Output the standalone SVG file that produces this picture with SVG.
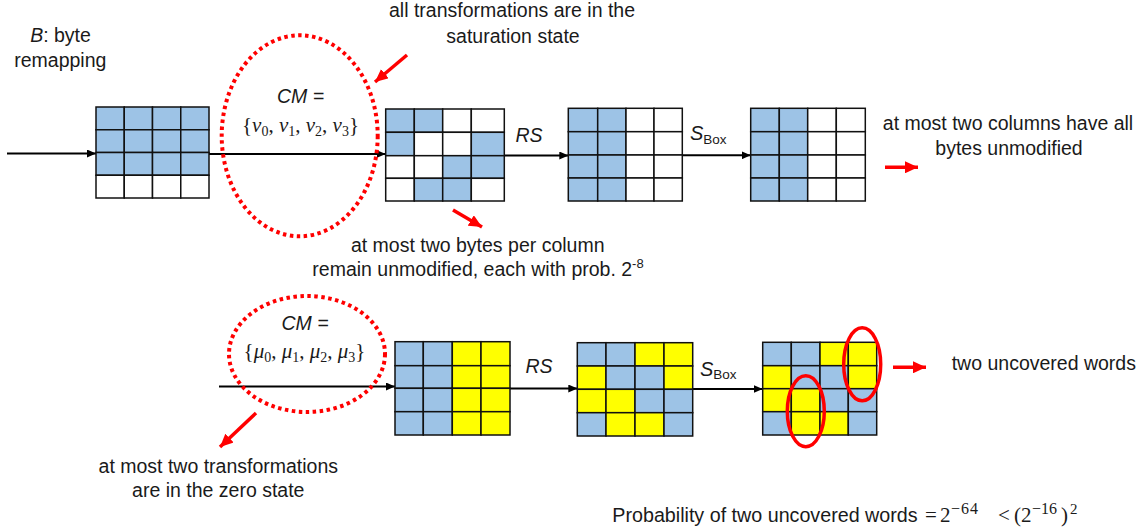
<svg xmlns="http://www.w3.org/2000/svg" width="1143" height="529" viewBox="0 0 1143 529">
<defs>
<style>
.t{font-family:"Liberation Sans",Arial,sans-serif;font-size:19.5px;fill:#1a1a1a}
.it{font-style:italic}
.m{font-family:"Liberation Serif","DejaVu Serif",serif;font-size:21px;fill:#1a1a1a}
.b{fill:#9DC3E6;stroke:#111;stroke-width:1.5}
.w{fill:#fff;stroke:#111;stroke-width:1.5}
.y{fill:#FFFF00;stroke:#111;stroke-width:1.5}
.ka{stroke:#000;stroke-width:2;fill:none;marker-end:url(#ah)}
.ra{stroke:#FF0000;stroke-width:3.5;fill:none;marker-end:url(#rh)}
.dot{fill:none;stroke:#FF0000;stroke-width:4;stroke-dasharray:3.5 3.5}
.sol{fill:none;stroke:#FF0000;stroke-width:3.5}
</style>
<marker id="ah" markerUnits="userSpaceOnUse" markerWidth="9" markerHeight="8" refX="9" refY="4" orient="auto"><path d="M0,0 L9,4 L0,8 z" fill="#000"/></marker>
<marker id="rh" markerUnits="userSpaceOnUse" markerWidth="13" markerHeight="12" refX="13" refY="6" orient="auto"><path d="M0,0 L13,6 L0,12 z" fill="#FF0000"/></marker>
</defs>
<rect width="1143" height="529" fill="#fff"/>

<g id="connectors">
<line class="ka" x1="7" y1="153.5" x2="96" y2="153.5"/>
<line class="ka" x1="209" y1="154" x2="385.7" y2="154"/>
<line class="ka" x1="504.3" y1="155.5" x2="568.3" y2="155.5"/>
<line class="ka" x1="682.3" y1="155.3" x2="750.7" y2="155.3"/>
<line class="ka" x1="219" y1="386.5" x2="395" y2="386.5"/>
<line class="ka" x1="510" y1="388.5" x2="577.3" y2="388.5"/>
<line class="ka" x1="692.7" y1="389" x2="762.7" y2="389"/>
<line class="ra" x1="407" y1="55" x2="375" y2="82"/>
<line class="ra" x1="453" y1="210" x2="482" y2="227"/>
<line class="ra" x1="885" y1="167.3" x2="918" y2="167.3"/>
<line class="ra" x1="256" y1="413" x2="220" y2="447"/>
<line class="ra" x1="893" y1="367.3" x2="926" y2="367.3"/>
</g>

<g id="grid-top-1">
<rect class="b" x="96" y="107" width="28.25" height="22.75"/><rect class="b" x="124.25" y="107" width="28.25" height="22.75"/><rect class="b" x="152.5" y="107" width="28.25" height="22.75"/><rect class="b" x="180.75" y="107" width="28.25" height="22.75"/>
<rect class="b" x="96" y="129.75" width="28.25" height="22.75"/><rect class="b" x="124.25" y="129.75" width="28.25" height="22.75"/><rect class="b" x="152.5" y="129.75" width="28.25" height="22.75"/><rect class="b" x="180.75" y="129.75" width="28.25" height="22.75"/>
<rect class="b" x="96" y="152.5" width="28.25" height="22.75"/><rect class="b" x="124.25" y="152.5" width="28.25" height="22.75"/><rect class="b" x="152.5" y="152.5" width="28.25" height="22.75"/><rect class="b" x="180.75" y="152.5" width="28.25" height="22.75"/>
<rect class="w" x="96" y="175.25" width="28.25" height="22.75"/><rect class="w" x="124.25" y="175.25" width="28.25" height="22.75"/><rect class="w" x="152.5" y="175.25" width="28.25" height="22.75"/><rect class="w" x="180.75" y="175.25" width="28.25" height="22.75"/>
</g>

<g id="grid-top-2">
<rect class="b" x="385.7" y="109" width="28.6" height="23.3"/><rect class="b" x="414.3" y="109" width="28.4" height="23.3"/><rect class="w" x="442.7" y="109" width="28.6" height="23.3"/><rect class="w" x="471.3" y="109" width="33" height="23.3"/>
<rect class="b" x="385.7" y="132.3" width="28.6" height="23.4"/><rect class="w" x="414.3" y="132.3" width="28.4" height="23.4"/><rect class="w" x="442.7" y="132.3" width="28.6" height="23.4"/><rect class="b" x="471.3" y="132.3" width="33" height="23.4"/>
<rect class="w" x="385.7" y="155.7" width="28.6" height="22.6"/><rect class="w" x="414.3" y="155.7" width="28.4" height="22.6"/><rect class="b" x="442.7" y="155.7" width="28.6" height="22.6"/><rect class="b" x="471.3" y="155.7" width="33" height="22.6"/>
<rect class="w" x="385.7" y="178.3" width="28.6" height="22.7"/><rect class="b" x="414.3" y="178.3" width="28.4" height="22.7"/><rect class="b" x="442.7" y="178.3" width="28.6" height="22.7"/><rect class="w" x="471.3" y="178.3" width="33" height="22.7"/>
</g>

<g id="grid-top-3">
<rect class="b" x="568.3" y="108.3" width="29.4" height="23.4"/><rect class="b" x="597.7" y="108.3" width="28.3" height="23.4"/><rect class="w" x="626" y="108.3" width="28" height="23.4"/><rect class="w" x="654" y="108.3" width="28.3" height="23.4"/>
<rect class="b" x="568.3" y="131.7" width="29.4" height="23.3"/><rect class="b" x="597.7" y="131.7" width="28.3" height="23.3"/><rect class="w" x="626" y="131.7" width="28" height="23.3"/><rect class="w" x="654" y="131.7" width="28.3" height="23.3"/>
<rect class="b" x="568.3" y="155" width="29.4" height="23"/><rect class="b" x="597.7" y="155" width="28.3" height="23"/><rect class="w" x="626" y="155" width="28" height="23"/><rect class="w" x="654" y="155" width="28.3" height="23"/>
<rect class="b" x="568.3" y="178" width="29.4" height="23"/><rect class="b" x="597.7" y="178" width="28.3" height="23"/><rect class="w" x="626" y="178" width="28" height="23"/><rect class="w" x="654" y="178" width="28.3" height="23"/>
</g>

<g id="grid-top-4">
<rect class="b" x="750.7" y="108.3" width="28.6" height="23.4"/><rect class="b" x="779.3" y="108.3" width="28.4" height="23.4"/><rect class="w" x="807.7" y="108.3" width="28.6" height="23.4"/><rect class="w" x="836.3" y="108.3" width="29" height="23.4"/>
<rect class="b" x="750.7" y="131.7" width="28.6" height="23.3"/><rect class="b" x="779.3" y="131.7" width="28.4" height="23.3"/><rect class="w" x="807.7" y="131.7" width="28.6" height="23.3"/><rect class="w" x="836.3" y="131.7" width="29" height="23.3"/>
<rect class="b" x="750.7" y="155" width="28.6" height="23"/><rect class="b" x="779.3" y="155" width="28.4" height="23"/><rect class="w" x="807.7" y="155" width="28.6" height="23"/><rect class="w" x="836.3" y="155" width="29" height="23"/>
<rect class="b" x="750.7" y="178" width="28.6" height="23"/><rect class="b" x="779.3" y="178" width="28.4" height="23"/><rect class="w" x="807.7" y="178" width="28.6" height="23"/><rect class="w" x="836.3" y="178" width="29" height="23"/>
</g>

<g id="grid-bottom-1">
<rect class="b" x="395" y="341.7" width="28.3" height="24"/><rect class="b" x="423.3" y="341.7" width="29" height="24"/><rect class="y" x="452.3" y="341.7" width="28.7" height="24"/><rect class="y" x="481" y="341.7" width="29" height="24"/>
<rect class="b" x="395" y="365.7" width="28.3" height="22.6"/><rect class="b" x="423.3" y="365.7" width="29" height="22.6"/><rect class="y" x="452.3" y="365.7" width="28.7" height="22.6"/><rect class="y" x="481" y="365.7" width="29" height="22.6"/>
<rect class="b" x="395" y="388.3" width="28.3" height="23.4"/><rect class="b" x="423.3" y="388.3" width="29" height="23.4"/><rect class="y" x="452.3" y="388.3" width="28.7" height="23.4"/><rect class="y" x="481" y="388.3" width="29" height="23.4"/>
<rect class="b" x="395" y="411.7" width="28.3" height="23.3"/><rect class="b" x="423.3" y="411.7" width="29" height="23.3"/><rect class="y" x="452.3" y="411.7" width="28.7" height="23.3"/><rect class="y" x="481" y="411.7" width="29" height="23.3"/>
</g>

<g id="grid-bottom-2">
<rect class="b" x="577.3" y="342.7" width="28.7" height="23.3"/><rect class="b" x="606" y="342.7" width="29" height="23.3"/><rect class="y" x="635" y="342.7" width="29" height="23.3"/><rect class="y" x="664" y="342.7" width="28.7" height="23.3"/>
<rect class="y" x="577.3" y="366" width="28.7" height="23.3"/><rect class="b" x="606" y="366" width="29" height="23.3"/><rect class="b" x="635" y="366" width="29" height="23.3"/><rect class="y" x="664" y="366" width="28.7" height="23.3"/>
<rect class="y" x="577.3" y="389.3" width="28.7" height="23.4"/><rect class="y" x="606" y="389.3" width="29" height="23.4"/><rect class="b" x="635" y="389.3" width="29" height="23.4"/><rect class="b" x="664" y="389.3" width="28.7" height="23.4"/>
<rect class="b" x="577.3" y="412.7" width="28.7" height="23.3"/><rect class="y" x="606" y="412.7" width="29" height="23.3"/><rect class="y" x="635" y="412.7" width="29" height="23.3"/><rect class="b" x="664" y="412.7" width="28.7" height="23.3"/>
</g>

<g id="grid-bottom-3">
<rect class="b" x="762.7" y="342.3" width="28.6" height="23.4"/><rect class="b" x="791.3" y="342.3" width="28.7" height="23.4"/><rect class="y" x="820" y="342.3" width="28.3" height="23.4"/><rect class="y" x="848.3" y="342.3" width="28.4" height="23.4"/>
<rect class="y" x="762.7" y="365.7" width="28.6" height="23"/><rect class="b" x="791.3" y="365.7" width="28.7" height="23"/><rect class="b" x="820" y="365.7" width="28.3" height="23"/><rect class="y" x="848.3" y="365.7" width="28.4" height="23"/>
<rect class="y" x="762.7" y="388.7" width="28.6" height="23"/><rect class="y" x="791.3" y="388.7" width="28.7" height="23"/><rect class="b" x="820" y="388.7" width="28.3" height="23"/><rect class="b" x="848.3" y="388.7" width="28.4" height="23"/>
<rect class="b" x="762.7" y="411.7" width="28.6" height="23.3"/><rect class="y" x="791.3" y="411.7" width="28.7" height="23.3"/><rect class="y" x="820" y="411.7" width="28.3" height="23.3"/><rect class="b" x="848.3" y="411.7" width="28.4" height="23.3"/>
</g>

<g id="cm-top">
<ellipse class="dot" cx="299.7" cy="135.8" rx="78" ry="100.5"/>
<text class="t it" x="300.5" y="103" text-anchor="middle">CM =</text>
<text class="m" x="300.5" y="131.7" text-anchor="middle">{<tspan font-style="italic">ν</tspan><tspan font-size="14" dy="4">0</tspan><tspan dy="-4">, </tspan><tspan font-style="italic">ν</tspan><tspan font-size="14" dy="4">1</tspan><tspan dy="-4">, </tspan><tspan font-style="italic">ν</tspan><tspan font-size="14" dy="4">2</tspan><tspan dy="-4">, </tspan><tspan font-style="italic">ν</tspan><tspan font-size="14" dy="4">3</tspan><tspan dy="-4">}</tspan></text>
</g>

<g id="cm-bottom">
<ellipse class="dot" cx="307" cy="354" rx="78" ry="58"/>
<text class="t it" x="305" y="330" text-anchor="middle">CM =</text>
<text class="m" x="304.5" y="358.3" text-anchor="middle">{<tspan font-style="italic">μ</tspan><tspan font-size="14" dy="4">0</tspan><tspan dy="-4">, </tspan><tspan font-style="italic">μ</tspan><tspan font-size="14" dy="4">1</tspan><tspan dy="-4">, </tspan><tspan font-style="italic">μ</tspan><tspan font-size="14" dy="4">2</tspan><tspan dy="-4">, </tspan><tspan font-style="italic">μ</tspan><tspan font-size="14" dy="4">3</tspan><tspan dy="-4">}</tspan></text>
</g>

<g id="uncovered-marks">
<ellipse class="sol" cx="862.2" cy="364.3" rx="18.5" ry="36.5"/>
<ellipse class="sol" cx="805.8" cy="411.2" rx="18.5" ry="35.5"/>
</g>

<g id="labels">
<text class="t" x="60.5" y="41.7" text-anchor="middle"><tspan font-style="italic">B</tspan>: byte</text>
<text class="t" x="60.3" y="66.7" text-anchor="middle">remapping</text>
<text class="t" x="512" y="17.3" text-anchor="middle">all transformations are in the</text>
<text class="t" x="513" y="42.7" text-anchor="middle">saturation state</text>
<text class="t it" x="529" y="142" text-anchor="middle">RS</text>
<text class="t" x="690" y="140"><tspan font-style="italic" font-size="20">S</tspan><tspan font-size="13.5" dy="4">Box</tspan></text>
<text class="t" x="1008" y="129.5" text-anchor="middle">at most two columns have all</text>
<text class="t" x="1009" y="155" text-anchor="middle">bytes unmodified</text>
<text class="t" x="477.7" y="252.3" text-anchor="middle">at most two bytes per column</text>
<text class="t" x="478" y="276" text-anchor="middle">remain unmodified, each with prob. 2<tspan font-size="13" dy="-8">-8</tspan></text>
<text class="t it" x="539" y="373.3" text-anchor="middle">RS</text>
<text class="t" x="700" y="376"><tspan font-style="italic" font-size="20">S</tspan><tspan font-size="13.5" dy="3">Box</tspan></text>
<text class="t" x="951.7" y="370">two uncovered words</text>
<text class="t" x="218.3" y="473.3" text-anchor="middle">at most two transformations</text>
<text class="t" x="218.3" y="496.7" text-anchor="middle">are in the zero state</text>
<text class="t" x="612.3" y="521.7" style="font-size:19.7px">Probability of two uncovered words</text>
<text class="m" y="521.7"><tspan x="925">=</tspan><tspan x="940">2</tspan><tspan x="951" y="514" font-size="16" letter-spacing="1">−64</tspan><tspan x="998" y="521.7">&lt;</tspan><tspan x="1014">(</tspan><tspan x="1021">2</tspan><tspan x="1032" y="514" font-size="16">−16</tspan><tspan x="1061" y="521.7">)</tspan><tspan x="1070" y="514" font-size="15">2</tspan></text>
</g>
</svg>
